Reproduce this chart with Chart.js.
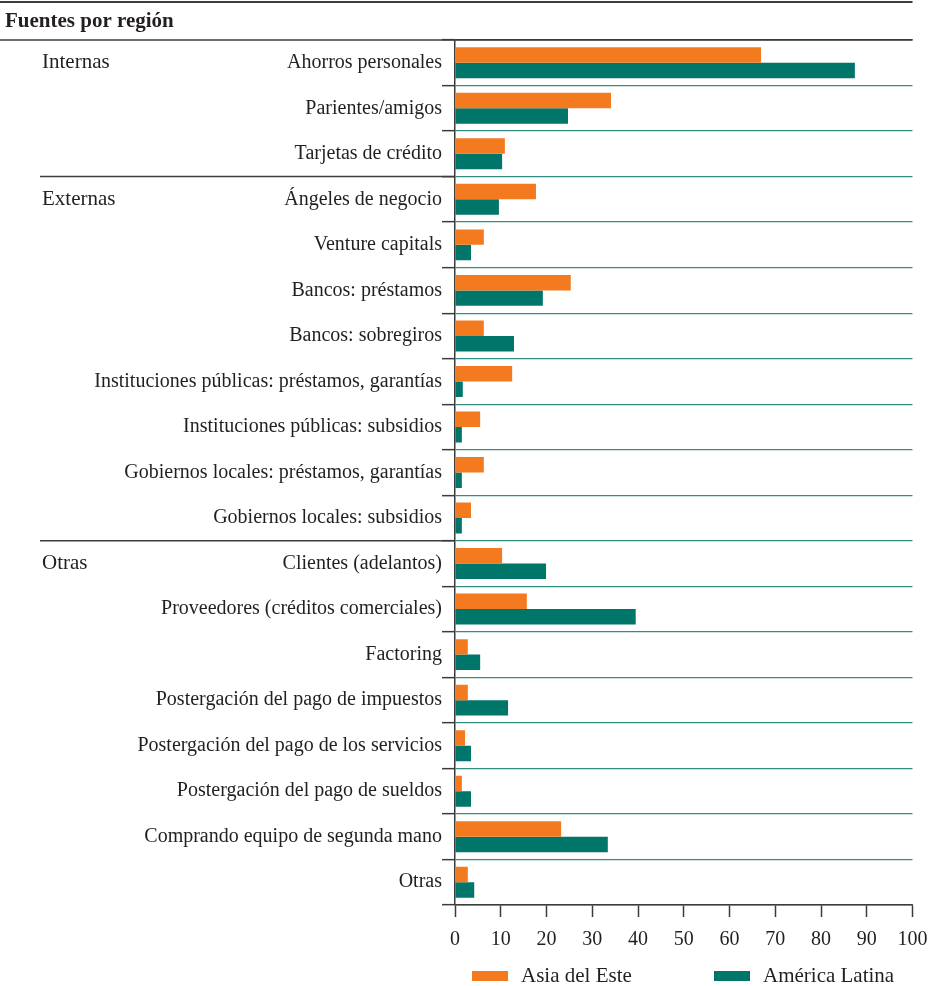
<!DOCTYPE html>
<html lang="es">
<head>
<meta charset="utf-8">
<title>Fuentes por región</title>
<script src="https://cdn.jsdelivr.net/npm/chart.js@4.4.1/dist/chart.umd.min.js"></script>
<style>
  html, body { margin: 0; padding: 0; background: #fff; }
  canvas { display: block; }
</style>
</head>
<body>
<canvas id="grafico" width="929" height="986"></canvas>
<script>
// Datos
const categorias = [
    "Ahorros personales",
    "Parientes/amigos",
    "Tarjetas de crédito",
    "Ángeles de negocio",
    "Venture capitals",
    "Bancos: préstamos",
    "Bancos: sobregiros",
    "Instituciones públicas: préstamos, garantías",
    "Instituciones públicas: subsidios",
    "Gobiernos locales: préstamos, garantías",
    "Gobiernos locales: subsidios",
    "Clientes (adelantos)",
    "Proveedores (créditos comerciales)",
    "Factoring",
    "Postergación del pago de impuestos",
    "Postergación del pago de los servicios",
    "Postergación del pago de sueldos",
    "Comprando equipo de segunda mano",
    "Otras"
];
const asiaDelEste = [66.9, 34.1, 10.9, 17.7, 6.3, 25.3, 6.3, 12.5, 5.5, 6.3, 3.5, 10.3, 15.7, 2.8, 2.8, 2.2, 1.5, 23.2, 2.8];
const americaLatina = [87.4, 24.7, 10.3, 9.6, 3.5, 19.2, 12.9, 1.7, 1.5, 1.5, 1.5, 19.9, 39.5, 5.5, 11.6, 3.5, 3.5, 33.4, 4.2];
const grupoNombres = ["Internas", "Externas", "Otras"];
const grupoInicio = [0, 3, 11];
const ticksX = [0, 10, 20, 30, 40, 50, 60, 70, 80, 90, 100];
const titulo = "Fuentes por región";

const NARANJA = "#f47a20";
const VERDE = "#00756a";
const OSCURO = "#3c3c3c";
const TEXTO = "#231f20";
const FUENTE = '"Liberation Serif", "Times New Roman", serif';
const TAM = 20;

Chart.defaults.font.family = FUENTE;
Chart.defaults.font.size = TAM;
Chart.defaults.color = TEXTO;

// Título, separadores de grupo y leyenda
const decoracion = {
    id: "decoracion",
    afterDraw(chart) {
        const { ctx, chartArea } = chart;
        const y = chart.scales.y;
        ctx.save();

        // línea superior y título
        ctx.strokeStyle = OSCURO;
        ctx.lineWidth = 2;
        ctx.beginPath();
        ctx.moveTo(0, 2);
        ctx.lineTo(chartArea.right, 2);
        ctx.stroke();

        ctx.fillStyle = TEXTO;
        ctx.font = "bold 21px " + FUENTE;
        ctx.textBaseline = "middle";
        ctx.textAlign = "left";
        ctx.fillText(titulo, 5, 22);

        ctx.lineWidth = 1.5;
        ctx.beginPath();
        ctx.moveTo(0, chartArea.top);
        ctx.lineTo(chartArea.right, chartArea.top);
        ctx.stroke();

        // grupos
        ctx.font = "21px " + FUENTE;
        grupoInicio.forEach(function (ini, i) {
            if (ini > 0) {
                const yl = (y.getPixelForValue(ini) + y.getPixelForValue(ini - 1)) / 2;
                ctx.beginPath();
                ctx.moveTo(40, yl);
                ctx.lineTo(chartArea.left, yl);
                ctx.stroke();
            }
            ctx.fillText(grupoNombres[i], 42, y.getPixelForValue(ini));
        });

        // leyenda
        const posLeyenda = [chartArea.left + 17, chartArea.left + 259];
        const yLeyenda = chartArea.bottom + 71;
        chart.data.datasets.forEach(function (ds, i) {
            ctx.fillStyle = ds.backgroundColor;
            ctx.fillRect(posLeyenda[i], yLeyenda - 5, 36, 10);
            ctx.fillStyle = TEXTO;
            ctx.fillText(ds.label, posLeyenda[i] + 49, yLeyenda);
        });
        ctx.restore();
    }
};

const ctxGrafico = document.getElementById("grafico").getContext("2d");
new Chart(ctxGrafico, {
    type: "bar",
    data: {
        labels: categorias,
        datasets: [
            { label: "Asia del Este", data: asiaDelEste, backgroundColor: NARANJA },
            { label: "América Latina", data: americaLatina, backgroundColor: VERDE }
        ]
    },
    options: {
        indexAxis: "y",
        responsive: false,
        animation: false,
        layout: { padding: { top: 40, right: 16.5, bottom: 31, left: 0 } },
        datasets: { bar: { categoryPercentage: 0.68, barPercentage: 1.0 } },
        plugins: {
            legend: { display: false },
            tooltip: { enabled: false }
        },
        scales: {
            x: {
                min: 0,
                max: 100,
                afterBuildTicks: function (scale) {
                    scale.ticks = ticksX.map(v => ({ value: v }));
                },
                afterFit: function (scale) {
                    scale.height = 50;
                    scale.paddingLeft = 0;
                    scale.paddingRight = 0;
                },
                border: { display: true, color: OSCURO, width: 1.5 },
                grid: { drawOnChartArea: false, drawTicks: true, tickLength: 12, tickColor: OSCURO, tickWidth: 1.5 },
                ticks: { color: TEXTO, padding: 11 }
            },
            y: {
                afterFit: function (scale) { scale.width = 455; },
                border: { display: true, color: OSCURO, width: 1.5 },
                grid: {
                    offset: true,
                    color: function (c) {
                        if (c.index === 0 || c.index === undefined) return OSCURO;
                        return "#2f8e81";
                    },
                    lineWidth: 1.3,
                    drawTicks: true,
                    tickLength: 13,
                    tickColor: OSCURO,
                    tickWidth: 1.5
                },
                ticks: { color: TEXTO, padding: 0 }
            }
        }
    },
    plugins: [decoracion]
});
</script>
</body>
</html>
